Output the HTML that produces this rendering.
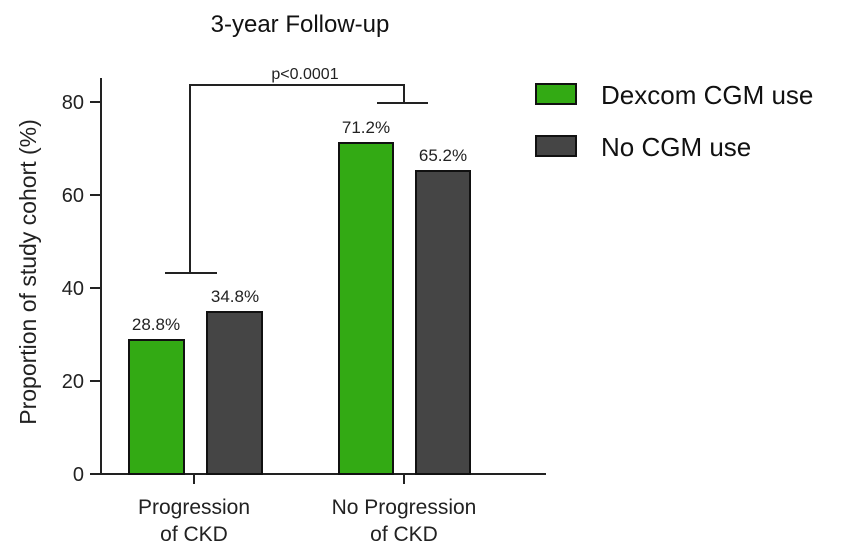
<!DOCTYPE html>
<html><head><style>body{margin:0;background:#fff}</style></head><body>
<svg width="860" height="551" xmlns="http://www.w3.org/2000/svg" font-family="Liberation Sans, Arial, sans-serif">
<rect width="860" height="551" fill="#fff"/>
<text x="300" y="32" font-size="24" text-anchor="middle" fill="#111">3-year Follow-up</text>
<g stroke="#222" stroke-width="2" fill="none">
<line x1="101" y1="78" x2="101" y2="475"/>
<line x1="100" y1="474" x2="546" y2="474"/>
<line x1="90" y1="474" x2="101" y2="474"/>
<line x1="90" y1="381" x2="101" y2="381"/>
<line x1="90" y1="288" x2="101" y2="288"/>
<line x1="90" y1="195" x2="101" y2="195"/>
<line x1="90" y1="102" x2="101" y2="102"/>
<line x1="194" y1="474" x2="194" y2="484"/>
<line x1="404" y1="474" x2="404" y2="484"/>
<polyline points="190,273 190,85 404,85 404,103"/>
<line x1="165" y1="273" x2="217" y2="273"/>
<line x1="377" y1="103" x2="428" y2="103"/>
</g>
<g font-size="20" fill="#222" text-anchor="end">
<text x="84" y="481">0</text><text x="84" y="388">20</text><text x="84" y="295">40</text><text x="84" y="202">60</text><text x="84" y="109">80</text>
</g>
<text transform="translate(36,272) rotate(-90)" font-size="23" text-anchor="middle" fill="#222">Proportion of study cohort (%)</text>
<g stroke="#111" stroke-width="2">
<rect x="129" y="340" width="55" height="134" fill="#33aa14"/>
<rect x="207" y="312" width="55" height="162" fill="#454545"/>
<rect x="339" y="143" width="54" height="331" fill="#33aa14"/>
<rect x="416" y="171" width="54" height="303" fill="#454545"/>
</g>
<g font-size="17" fill="#222" text-anchor="middle">
<text x="156" y="330">28.8%</text><text x="235" y="302">34.8%</text>
<text x="366" y="133">71.2%</text><text x="443" y="161">65.2%</text>
<text x="305" y="79" font-size="16">p&lt;0.0001</text>
</g>
<g font-size="21" fill="#222" text-anchor="middle">
<text x="194" y="514">Progression</text><text x="194" y="541">of CKD</text>
<text x="404" y="514">No Progression</text><text x="404" y="541">of CKD</text>
</g>
<rect x="536" y="84" width="40" height="20" fill="#33aa14" stroke="#111" stroke-width="2"/>
<rect x="536" y="136" width="40" height="20" fill="#454545" stroke="#111" stroke-width="2"/>
<g font-size="26" fill="#111">
<text x="601" y="104">Dexcom CGM use</text>
<text x="601" y="156">No CGM use</text>
</g>
</svg>
</body></html>
